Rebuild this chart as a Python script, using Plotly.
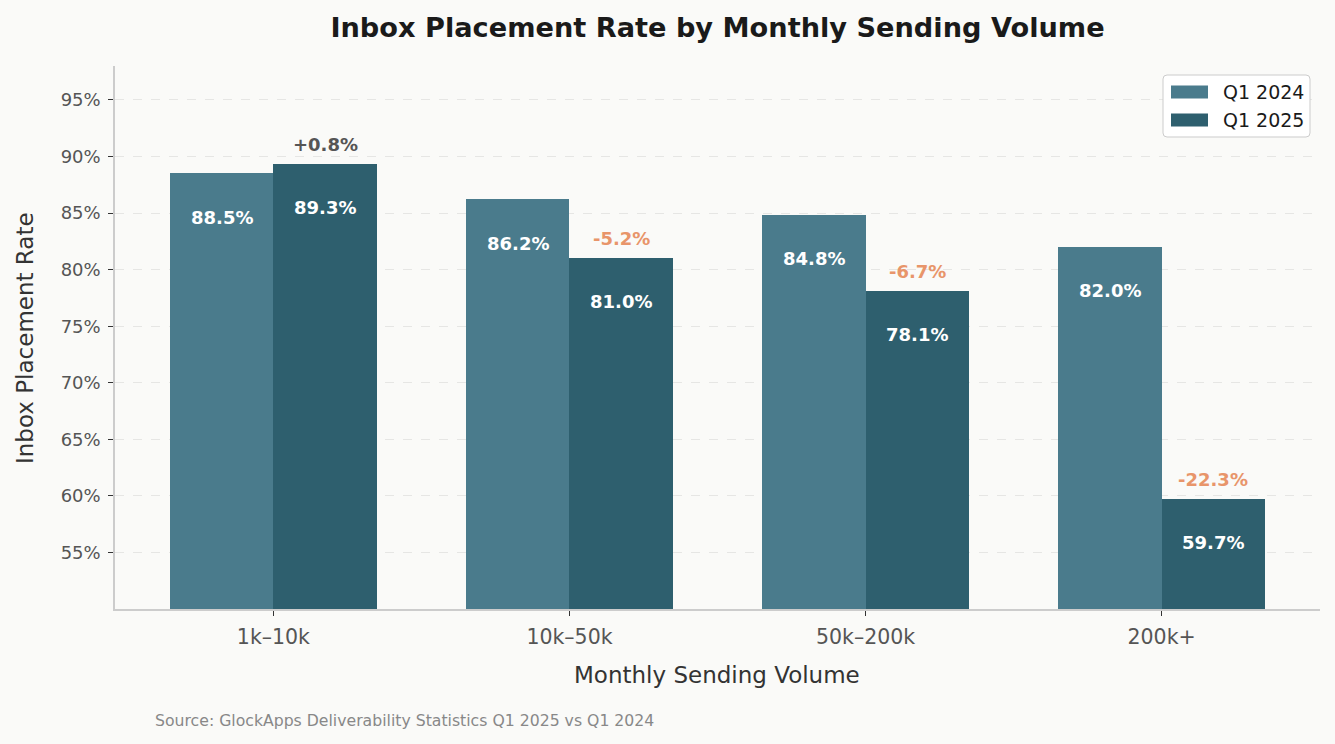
import plotly.graph_objects as go

categories = ["1k–10k", "10k–50k", "50k–200k", "200k+"]
q1_2024 = [88.5, 86.2, 84.8, 82.0]
q1_2025 = [89.3, 81.0, 78.1, 59.7]
y_ticks = [55, 60, 65, 70, 75, 80, 85, 90, 95]
series_names = ["Q1 2024", "Q1 2025"]

c24 = "#4a7b8c"
c25 = "#2e5f6e"
font = "DejaVu Sans"
w = 0.35
xs = list(range(len(categories)))

W, H = 1335, 744
ml, mr, mt, mb = 115, 15, 66, 135
pw, ph = W - ml - mr, H - mt - mb


def px(x):
    return (x - ml) / pw


def py(y):
    return (H - mb - y) / ph


fig = go.Figure()
fig.add_trace(go.Bar(x=[i - w / 2 for i in xs], y=q1_2024, width=w, name=series_names[0],
                     marker=dict(color=c24, line=dict(width=0)), hoverinfo="y"))
fig.add_trace(go.Bar(x=[i + w / 2 for i in xs], y=q1_2025, width=w, name=series_names[1],
                     marker=dict(color=c25, line=dict(width=0)), hoverinfo="y"))

ann = []
for i, (a, b) in enumerate(zip(q1_2024, q1_2025)):
    for xv, v in ((i - w / 2, a), (i + w / 2, b)):
        ann.append(dict(x=xv, y=v - 3.85, xref="x", yref="y", text=f"<b>{v:.1f}%</b>",
                        showarrow=False, font=dict(family=font, size=18, color="white"),
                        yanchor="middle"))
    d = b - a
    ann.append(dict(x=i + w / 2, y=b + 1.75, xref="x", yref="y", text=f"<b>{d:+.1f}%</b>",
                    showarrow=False, yanchor="middle",
                    font=dict(family=font, size=18, color="#555555" if d >= 0 else "#e8956a")))

ann.append(dict(x=px(153), y=py(720), xref="paper", yref="paper",
                text="Source: GlockApps Deliverability Statistics Q1 2025 vs Q1 2024",
                showarrow=False, font=dict(family=font, size=15.7, color="#888888"),
                xanchor="left", yanchor="middle"))
ann.append(dict(x=px(717), y=py(675), xref="paper", yref="paper", text="Monthly Sending Volume",
                showarrow=False, font=dict(family=font, size=23, color="#333333"),
                xanchor="center", yanchor="middle"))
ann.append(dict(x=px(25), y=py(338), xref="paper", yref="paper", text="Inbox Placement Rate",
                showarrow=False, textangle=-90, font=dict(family=font, size=23, color="#333333"),
                xanchor="center", yanchor="middle"))

# custom legend with rounded box
x0, x1, y0, y1, r = 1163, 1310, 75, 137, 4
P = lambda x, y: f"{px(x):.6f},{py(y):.6f}"
path = (f"M {P(x0 + r, y0)} L {P(x1 - r, y0)} Q {P(x1, y0)} {P(x1, y0 + r)} "
        f"L {P(x1, y1 - r)} Q {P(x1, y1)} {P(x1 - r, y1)} L {P(x0 + r, y1)} "
        f"Q {P(x0, y1)} {P(x0, y1 - r)} L {P(x0, y0 + r)} Q {P(x0, y0)} {P(x0 + r, y0)} Z")
shapes = [dict(type="path", xref="paper", yref="paper", path=path,
               fillcolor="white", line=dict(color="#cccccc", width=1), layer="above")]
for k, (nm, col) in enumerate(zip(series_names, [c24, c25])):
    yc = 92 + 28 * k
    shapes.append(dict(type="rect", xref="paper", yref="paper", x0=px(1171), x1=px(1208),
                       y0=py(yc + 6.5), y1=py(yc - 6.5), fillcolor=col, line=dict(width=0), layer="above"))
    ann.append(dict(x=px(1221), y=py(yc), xref="paper", yref="paper", text=nm, showarrow=False,
                    xanchor="left", yanchor="middle", font=dict(family=font, size=19, color="#1a1a1a")))

fig.update_layout(
    width=W, height=H,
    margin=dict(l=ml, r=mr, t=mt, b=mb),
    paper_bgcolor="#fafaf8", plot_bgcolor="#fafaf8",
    font=dict(family=font, color="#333333"),
    title=dict(text="<b>Inbox Placement Rate by Monthly Sending Volume</b>",
               x=0.5, xanchor="center", y=1 - 27 / H, yanchor="middle",
               xref="paper", font=dict(family=font, size=27.2, color="#1a1a1a")),
    barmode="overlay", bargap=0,
    showlegend=False,
    annotations=ann,
    shapes=shapes,
)
fig.update_xaxes(range=[-0.535, 3.535], tickmode="array", tickvals=xs, ticktext=categories,
                 showgrid=False, zeroline=False, showline=True, linecolor="#cccccc", linewidth=1.5,
                 ticks="outside", ticklen=5, tickcolor="#333333", ticklabelstandoff=4,
                 tickfont=dict(family=font, size=20.5, color="#555555"))
fig.update_yaxes(range=[50, 98], tickmode="array", tickvals=y_ticks,
                 ticktext=[f"{t}%" for t in y_ticks],
                 showgrid=True, gridcolor="#e6e6e4", griddash="dash", gridwidth=1,
                 zeroline=False, showline=True, linecolor="#cccccc", linewidth=1.5,
                 ticks="outside", ticklen=5, tickcolor="#333333", ticklabelstandoff=4,
                 tickfont=dict(family=font, size=18, color="#555555"))

fig.write_html("out.html")
